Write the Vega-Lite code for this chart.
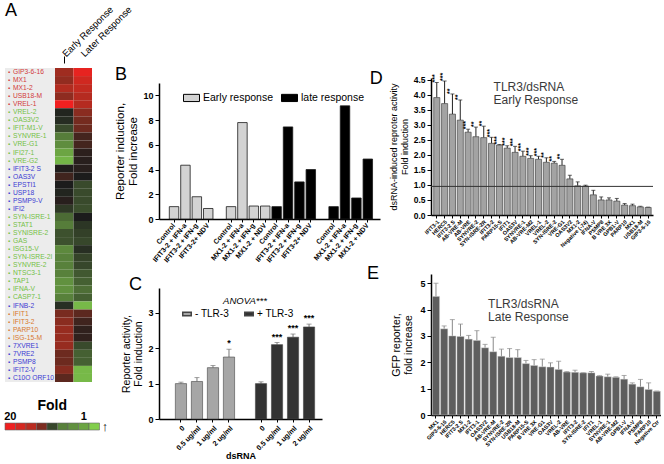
{
 "$schema": "https://vega.github.io/schema/vega-lite/v6.json",
 "padding": {"left": 3, "top": 2, "right": 0, "bottom": 0},
 "background": "white",
 "config": {
  "font": "Liberation Sans",
  "view": {"stroke": null},
  "axis": {"grid": false, "labelColor": "#000", "titleColor": "#000", "domainColor": "#000", "tickColor": "#000", "labelFontWeight": "bold", "titleFontWeight": "normal"},
  "legend": {"labelColor": "#000"}
 },
 "datasets": {
  "heat": [
   {"name": "GIP3-6-16", "grp": "r", "Early Response": 3.2, "Later Response": 4.8},
   {"name": "MX1", "grp": "r", "Early Response": 2.9, "Later Response": 4.3},
   {"name": "MX1-2", "grp": "r", "Early Response": 3.6, "Later Response": 4.0},
   {"name": "USB18-M", "grp": "r", "Early Response": 2.8, "Later Response": 3.7},
   {"name": "VREL-1", "grp": "r", "Early Response": 5.0, "Later Response": 3.7},
   {"name": "VREL-2", "grp": "g", "Early Response": -0.3, "Later Response": 2.7},
   {"name": "OAS3V2", "grp": "g", "Early Response": -0.5, "Later Response": 2.2},
   {"name": "IFIT-M1-V", "grp": "g", "Early Response": -1.4, "Later Response": 2.0},
   {"name": "SYNVRE-1", "grp": "g", "Early Response": -2.8, "Later Response": 1.0},
   {"name": "VRE-G1", "grp": "g", "Early Response": -3.2, "Later Response": 1.0},
   {"name": "IFI27-1", "grp": "g", "Early Response": -3.8, "Later Response": 0.4},
   {"name": "VRE-G2", "grp": "g", "Early Response": -4.2, "Later Response": 0.3},
   {"name": "IFIT3-2 S", "grp": "b", "Early Response": 0.1, "Later Response": 0.3},
   {"name": "OAS3V", "grp": "b", "Early Response": 0.9, "Later Response": 0.0},
   {"name": "EPSTI1", "grp": "b", "Early Response": 0.0, "Later Response": -1.4},
   {"name": "USP18", "grp": "b", "Early Response": -0.3, "Later Response": -1.4},
   {"name": "PSMP9-V", "grp": "b", "Early Response": 0.3, "Later Response": -1.4},
   {"name": "IFI2", "grp": "b", "Early Response": -0.9, "Later Response": -1.5},
   {"name": "SYN-ISRE-1", "grp": "g", "Early Response": -2.3, "Later Response": 0.0},
   {"name": "STAT1", "grp": "g", "Early Response": -2.8, "Later Response": -0.8},
   {"name": "SYNISRE-2", "grp": "g", "Early Response": -1.6, "Later Response": -1.1},
   {"name": "GAS", "grp": "g", "Early Response": -1.6, "Later Response": -1.3},
   {"name": "ISG15-V", "grp": "g", "Early Response": -3.1, "Later Response": -0.6},
   {"name": "SYN-ISRE-2I", "grp": "g", "Early Response": -2.9, "Later Response": -1.2},
   {"name": "SYNVRE-2", "grp": "g", "Early Response": -2.9, "Later Response": -1.3},
   {"name": "NTSC3-1", "grp": "g", "Early Response": -2.9, "Later Response": -1.8},
   {"name": "TAP1", "grp": "g", "Early Response": -3.3, "Later Response": -2.0},
   {"name": "IFNA-V", "grp": "g", "Early Response": -3.3, "Later Response": -2.4},
   {"name": "CASP7-1", "grp": "g", "Early Response": -2.9, "Later Response": -2.0},
   {"name": "IFNB-2", "grp": "b", "Early Response": -0.6, "Later Response": -4.3},
   {"name": "IFIT1", "grp": "o", "Early Response": 2.3, "Later Response": 1.6},
   {"name": "IFIT3-2", "grp": "o", "Early Response": 2.7, "Later Response": 0.9},
   {"name": "PARP10", "grp": "o", "Early Response": 3.0, "Later Response": 0.5},
   {"name": "ISG-15-M", "grp": "o", "Early Response": 3.0, "Later Response": 0.5},
   {"name": "7XVRE1", "grp": "b", "Early Response": 3.0, "Later Response": -1.4},
   {"name": "7VRE2", "grp": "b", "Early Response": 2.0, "Later Response": -2.0},
   {"name": "PSMP8", "grp": "b", "Early Response": 2.0, "Later Response": -2.0},
   {"name": "IFIT2-V", "grp": "b", "Early Response": 2.6, "Later Response": -4.3},
   {"name": "C10O ORF10", "grp": "b", "Early Response": 1.6, "Later Response": -4.3}
  ]
 },
 "resolve": {"scale": {"color": "independent", "fill": "independent", "x": "independent", "y": "independent"}},
 "spacing": -19,
 "hconcat": [
  {
   "resolve": {"scale": {"color": "independent", "fill": "independent", "x": "independent", "y": "independent"}},
   "spacing": 16,
   "vconcat": [
    {
     "bounds": "flush",
     "spacing": 0,
     "resolve": {"scale": {"color": "independent", "fill": "independent", "x": "independent", "y": "independent"}},
     "hconcat": [
      {
       "width": 50,
       "height": 314,
       "view": {"fill": "#ececec", "stroke": null},
       "data": {"name": "heat"},
       "encoding": {
        "y": {"field": "name", "type": "nominal", "sort": null, "axis": null, "scale": {"paddingInner": 0, "paddingOuter": 0}},
        "x": {"datum": 0.08, "type": "quantitative", "scale": {"domain": [0, 1]}, "axis": null}
       },
       "layer": [
        {"mark": {"type": "text", "align": "center", "baseline": "middle", "fontSize": 6, "text": "▪"},
         "encoding": {"fill": {"field": "grp", "type": "nominal", "scale": {"domain": ["r", "g", "b", "o"], "range": ["#d23a3a", "#72c044", "#3a3ad2", "#d8782e"]}, "legend": null}}},
        {"mark": {"type": "text", "align": "left", "baseline": "middle", "fontSize": 6.7, "dx": 4},
         "encoding": {"text": {"field": "name"}, "fill": {"field": "grp", "type": "nominal", "legend": null}}},
        {"data": {"values": [{}]}, "mark": {"type": "text", "text": "A", "fontSize": 18, "align": "left", "baseline": "alphabetic", "dy": -56, "color": "#000"},
         "encoding": {"x": {"datum": 0, "type": "quantitative"}, "y": {"datum": "GIP3-6-16", "type": "nominal"}}}
       ]
      },
      {
       "width": 37,
       "height": 314,
       "data": {"name": "heat"},
       "transform": [{"fold": ["Early Response", "Later Response"], "as": ["col", "score"]}],
       "mark": {"type": "rect"},
       "encoding": {
        "x": {"field": "col", "type": "nominal", "sort": ["Early Response", "Later Response"], "scale": {"paddingInner": 0, "paddingOuter": 0},
         "axis": {"orient": "top", "title": null, "labelAngle": -45, "labelAlign": "left", "labelBaseline": "middle", "labelFontSize": 9.5, "labelFontWeight": "normal", "domain": false, "tickSize": 7, "offset": 5, "labelPadding": 1,
          "tickColor": {"condition": {"test": "datum.value == 'Early Response'", "value": "#000"}, "value": "transparent"}}},
        "y": {"field": "name", "type": "nominal", "sort": null, "axis": null, "scale": {"paddingInner": 0, "paddingOuter": 0}},
        "color": {"field": "score", "type": "quantitative", "scale": {"domain": [-5, 0, 5], "range": ["#86d64e", "#1c1c1c", "#f02020"]}, "legend": null}
       }
      }
     ]
    },
    {
     "width": 105,
     "height": 7,
     "encoding": {
      "x": {"field": "seg", "type": "nominal", "sort": null,
       "scale": {"domain": ["s1", "s2", "s3", "s4", "s5", "s6", "s7", "s8", "s9", "arrow"], "paddingInner": 0, "paddingOuter": 0},
       "axis": {"orient": "top", "title": null, "domain": false, "ticks": false, "labelAngle": 0, "labelFontSize": 11, "labelPadding": 2, "labelExpr": "datum.value == 's1' ? '20' : datum.value == 's8' ? '1' : ''"}}
     },
     "layer": [
      {
       "data": {"values": [
        {"seg": "s1", "score": 5.0}, {"seg": "s2", "score": 4.4}, {"seg": "s3", "score": 3.8},
        {"seg": "s4", "score": 2.4}, {"seg": "s5", "score": -1.3}, {"seg": "s6", "score": -2.9},
        {"seg": "s7", "score": -3.3}, {"seg": "s8", "score": -3.8}, {"seg": "s9", "score": -4.8}
       ]},
       "mark": {"type": "rect", "stroke": "#666", "strokeWidth": 0.6},
       "encoding": {"color": {"field": "score", "type": "quantitative", "scale": {"domain": [-5, 0, 5], "range": ["#86d64e", "#1c1c1c", "#f02020"]}, "legend": null}}
      },
      {
       "data": {"values": [{"seg": "arrow", "t": "↑"}]},
       "mark": {"type": "text", "fontSize": 13, "fontWeight": "bold", "baseline": "middle", "align": "left", "dx": -3, "color": "#000"},
       "encoding": {"text": {"field": "t"}}
      },
      {
       "data": {"values": [{}]},
       "mark": {"type": "text", "text": "Fold", "fontSize": 14, "fontWeight": "bold", "baseline": "middle", "align": "center", "dy": -21, "color": "#000"},
       "encoding": {"x": {"datum": "s5"}}
      }
     ]
    }
   ]
  },
  {
   "spacing": -14,
   "resolve": {"scale": {"color": "independent", "fill": "independent", "x": "independent", "y": "independent"}},
   "hconcat": [
    {
     "bounds": "flush",
     "spacing": 14,
     "resolve": {"scale": {"color": "independent", "fill": "independent", "x": "independent", "y": "independent"}},
     "vconcat": [
      {"width": 1, "height": 1, "data": {"values": [{}]}, "mark": {"type": "text"}, "encoding": {"text": {"value": ""}}},
      {
       "bounds": "flush",
       "spacing": 69,
       "resolve": {"scale": {"color": "independent", "fill": "independent", "x": "independent", "y": "independent"}},
       "vconcat": [
        {
         "width": 221,
         "height": 136,
         "encoding": {
          "x": {"field": "key", "type": "nominal", "sort": null,
           "scale": {"domain": ["Control|1", "IFIT3-2 + IFN-a|1", "IFIT3-2 + IFN-g|1", "IFIT3-2+ NDV|1", "|g1", "Control|2", "MX1-2 + IFN-a|2", "MX1-2 + IFN-g|2", "MX1-2 + NDV|2", "Control|3", "IFIT3-2 + IFN-a|3", "IFIT3-2 + IFN-g|3", "IFIT3-2+ NDV|3", "|g2", "Control|4", "MX1-2 + IFN-a|4", "MX1-2 + IFN-g|4", "MX1-2 + NDV|4"], "paddingInner": 0.17, "paddingOuter": 0.78, "align": 0.58},
           "axis": {"title": null, "labelAngle": -50, "labelFontSize": 7, "labelExpr": "split(datum.value, '|')[0]", "tickSize": 3, "labelPadding": 2, "domainWidth": 1.5,
            "tickColor": {"condition": {"test": "indexof(datum.value, '|g') == 0", "value": "transparent"}, "value": "#000"}}},
          "y": {"type": "quantitative", "scale": {"domain": [0, 11], "nice": false},
           "axis": {"values": [0, 2, 4, 6, 8, 10], "title": ["Reporter induction,", "Fold increase"], "titleFontSize": 11.5, "labelFontSize": 9, "tickSize": 4, "domainWidth": 1.5, "titlePadding": 4}}
         },
         "layer": [
          {
           "data": {"values": [
            {"key": "Control|1", "v": 1.0, "resp": "Early response"},
            {"key": "IFIT3-2 + IFN-a|1", "v": 4.35, "resp": "Early response"},
            {"key": "IFIT3-2 + IFN-g|1", "v": 1.8, "resp": "Early response"},
            {"key": "IFIT3-2+ NDV|1", "v": 0.85, "resp": "Early response"},
            {"key": "Control|2", "v": 1.0, "resp": "Early response"},
            {"key": "MX1-2 + IFN-a|2", "v": 7.8, "resp": "Early response"},
            {"key": "MX1-2 + IFN-g|2", "v": 1.05, "resp": "Early response"},
            {"key": "MX1-2 + NDV|2", "v": 1.05, "resp": "Early response"},
            {"key": "Control|3", "v": 1.0, "resp": "late response"},
            {"key": "IFIT3-2 + IFN-a|3", "v": 7.45, "resp": "late response"},
            {"key": "IFIT3-2 + IFN-g|3", "v": 3.0, "resp": "late response"},
            {"key": "IFIT3-2+ NDV|3", "v": 4.0, "resp": "late response"},
            {"key": "Control|4", "v": 1.0, "resp": "late response"},
            {"key": "MX1-2 + IFN-a|4", "v": 9.15, "resp": "late response"},
            {"key": "MX1-2 + IFN-g|4", "v": 1.7, "resp": "late response"},
            {"key": "MX1-2 + NDV|4", "v": 4.85, "resp": "late response"}
           ]},
           "mark": {"type": "bar", "stroke": "#1a1a1a", "strokeWidth": 0.8},
           "encoding": {
            "y": {"field": "v"},
            "color": {"field": "resp", "type": "nominal", "scale": {"domain": ["Early response", "late response"], "range": ["#d3d3d3", "#000000"]},
             "legend": {"orient": "none", "legendX": 24, "legendY": 6, "direction": "horizontal", "title": null, "symbolType": "M-1,-0.45H1V0.45H-1Z", "symbolSize": 256, "symbolStrokeColor": "#000", "symbolStrokeWidth": 1, "labelFontSize": 10.5, "columnPadding": 5, "labelOffset": 3}}
           }
          },
          {
           "data": {"values": [{}]},
           "mark": {"type": "text", "text": "B", "fontSize": 18, "align": "left", "baseline": "alphabetic", "dx": -59, "dy": -3, "color": "#000"},
           "encoding": {"x": {"datum": "Control|1"}, "y": {"datum": 11}}
          }
         ]
        },
        {
         "width": 163,
         "height": 131,
         "data": {"values": [
          {"key": "0|m", "v": 1.0, "err": 1.04, "grp": "- TLR-3", "star": ""},
          {"key": "0.5 ug/ml|m", "v": 1.06, "err": 1.17, "grp": "- TLR-3", "star": ""},
          {"key": "1 ug/ml|m", "v": 1.45, "err": 1.51, "grp": "- TLR-3", "star": ""},
          {"key": "2 ug/ml|m", "v": 1.75, "err": 1.97, "grp": "- TLR-3", "star": "*"},
          {"key": "0|p", "v": 1.0, "err": 1.05, "grp": "+ TLR-3", "star": ""},
          {"key": "0.5 ug/ml|p", "v": 2.1, "err": 2.16, "grp": "+ TLR-3", "star": "***"},
          {"key": "1 ug/ml|p", "v": 2.31, "err": 2.4, "grp": "+ TLR-3", "star": "***"},
          {"key": "2 ug/ml|p", "v": 2.6, "err": 2.68, "grp": "+ TLR-3", "star": "***"}
         ]},
         "encoding": {
          "x": {"field": "key", "type": "nominal", "sort": null,
           "scale": {"domain": ["0|m", "0.5 ug/ml|m", "1 ug/ml|m", "2 ug/ml|m", "|gap", "0|p", "0.5 ug/ml|p", "1 ug/ml|p", "2 ug/ml|p"], "paddingInner": 0.3, "paddingOuter": 0.74, "align": 0.69},
           "axis": {"title": "dsRNA", "titleFontSize": 9, "titleFontWeight": "bold", "titlePadding": 0, "labelAngle": -45, "labelFontSize": 7.2, "labelExpr": "split(datum.value, '|')[0]", "tickSize": 3, "labelPadding": 2, "domainWidth": 1.5,
            "tickColor": {"condition": {"test": "datum.value == '|gap'", "value": "transparent"}, "value": "#000"}}},
          "y": {"type": "quantitative", "scale": {"domain": [0, 3.7], "nice": false},
           "axis": {"values": [0, 1, 2, 3], "title": ["Reporter activity,", "Fold induction"], "titleFontSize": 10.5, "labelFontSize": 9, "tickSize": 4, "domainWidth": 1.5, "titlePadding": 4}}
         },
         "layer": [
          {"mark": {"type": "rule", "color": "#777", "strokeWidth": 1}, "encoding": {"y": {"field": "v"}, "y2": {"field": "err"}}},
          {"mark": {"type": "tick", "color": "#777", "size": 5, "thickness": 1}, "encoding": {"y": {"field": "err"}}},
          {"mark": {"type": "bar", "stroke": "#444", "strokeWidth": 0.6},
           "encoding": {"y": {"field": "v"},
            "color": {"field": "grp", "type": "nominal", "scale": {"domain": ["- TLR-3", "+ TLR-3"], "range": ["#a6a6a6", "#333333"]},
             "legend": {"orient": "none", "legendX": 23, "legendY": 21, "direction": "horizontal", "title": null, "symbolType": "M-1,-0.4H1V0.4H-1Z", "symbolSize": 72, "labelFontSize": 10, "labelFontWeight": "normal", "columnPadding": 12, "labelOffset": 3,
              "encode": {"symbols": {"update": {"fill": {"value": "white"}, "stroke": {"value": "#777"}, "strokeWidth": {"value": 1}}}}}}}},
          {"mark": {"type": "text", "baseline": "bottom", "fontSize": 9, "fontWeight": "bold", "dy": -1}, "encoding": {"y": {"field": "err"}, "text": {"field": "star"}}},
          {"data": {"values": [{}]}, "mark": {"type": "text", "text": "ANOVA***", "fontSize": 9.5, "fontStyle": "italic", "baseline": "middle"}, "encoding": {"x": {"datum": "|gap"}, "y": {"datum": 3.33}}},
          {"data": {"values": [{}]}, "mark": {"type": "text", "text": "C", "fontSize": 18, "align": "left", "baseline": "alphabetic", "dx": -52, "dy": 2, "color": "#000"}, "encoding": {"x": {"datum": "0|m"}, "y": {"datum": 3.7}}}
         ]
        }
       ]
      }
     ]
    },
    {
     "bounds": "flush",
     "spacing": 9,
     "resolve": {"scale": {"color": "independent", "fill": "independent", "x": "independent", "y": "independent"}},
     "vconcat": [
      {"width": 1, "height": 1, "data": {"values": [{}]}, "mark": {"type": "text"}, "encoding": {"text": {"value": ""}}},
      {
       "bounds": "flush",
       "spacing": 59,
       "resolve": {"scale": {"color": "independent", "fill": "independent", "x": "independent", "y": "independent"}},
       "vconcat": [
        {
         "width": 222,
         "height": 137,
         "data": {"values": [
          {"name": "IFIT3-1", "v": 3.9, "err": 4.4, "star": "***"},
          {"name": "HERC5", "v": 3.7, "err": 4.45, "star": "***"},
          {"name": "IFIT3-2 S", "v": 3.35, "err": 4.02, "star": "**"},
          {"name": "AB-VRE-M", "v": 3.15, "err": 3.82, "star": "**"},
          {"name": "AB-VRE", "v": 2.75, "err": 2.85, "star": "***"},
          {"name": "SYNVRE-2", "v": 2.6, "err": 2.92, "star": "**"},
          {"name": "SYN-ISRE-2R", "v": 2.57, "err": 2.95, "star": "**"},
          {"name": "IFIT3-2", "v": 2.38, "err": 2.58, "star": "***"},
          {"name": "PARP15-S", "v": 2.32, "err": 2.34, "star": "***"},
          {"name": "IFIT1", "v": 2.22, "err": 2.3, "star": "***"},
          {"name": "OAS3V", "v": 2.08, "err": 2.28, "star": "***"},
          {"name": "SYNVRE-1", "v": 1.95, "err": 2.12, "star": "***"},
          {"name": "AB-VRE-M2", "v": 1.88, "err": 1.97, "star": "***"},
          {"name": "VREL-1", "v": 1.85, "err": 1.95, "star": "***"},
          {"name": "VREL-2", "v": 1.75, "err": 1.9, "star": "**"},
          {"name": "SYN-ISRE-2", "v": 1.72, "err": 1.78, "star": "**"},
          {"name": "VRE-G1", "v": 1.65, "err": 1.85, "star": "**"},
          {"name": "OAS3V2", "v": 1.2, "err": 1.32, "star": ""},
          {"name": "MX1-2", "v": 0.97, "err": 1.1, "star": ""},
          {"name": "Negative (-74)", "v": 0.96, "err": 0.99, "star": ""},
          {"name": "IFNA-V", "v": 0.67, "err": 0.82, "star": ""},
          {"name": "PSMP8", "v": 0.5, "err": 0.6, "star": ""},
          {"name": "B VRE 3X", "v": 0.5, "err": 0.57, "star": ""},
          {"name": "GPB1-V", "v": 0.46, "err": 0.55, "star": ""},
          {"name": "PARP10", "v": 0.33, "err": 0.38, "star": ""},
          {"name": "MX1", "v": 0.31, "err": 0.36, "star": ""},
          {"name": "USB18-M", "v": 0.27, "err": 0.29, "star": ""},
          {"name": "GIP3-6-16", "v": 0.25, "err": 0.26, "star": ""}
         ]},
         "encoding": {
          "y": {"type": "quantitative", "scale": {"domain": [0, 4.55], "nice": false},
           "axis": {"values": [0, 0.5, 1, 1.5, 2, 2.5, 3, 3.5, 4, 4.5], "format": ".1f", "title": ["dsRNA-induced reproter activity", "Fold induction"], "titleFontSize": 9, "labelFontSize": 8.5, "tickSize": 4, "domainWidth": 1.5, "titlePadding": 4}}
         },
         "layer": [
          {"mark": {"type": "rule", "color": "#222", "strokeWidth": 1},
           "encoding": {"x": {"field": "name", "type": "nominal", "sort": null, "scale": {"paddingInner": 0.22, "paddingOuter": 0.29, "align": 0.6},
            "axis": {"title": null, "labelAngle": -45, "labelFontSize": 5.5, "labelColor": "#000", "tickSize": 3, "labelPadding": 1, "domainWidth": 1.5}}, "y": {"field": "v"}, "y2": {"field": "err"}}},
          {"mark": {"type": "tick", "color": "#222", "size": 4, "thickness": 1}, "encoding": {"x": {"field": "name", "type": "nominal", "sort": null}, "y": {"field": "err"}}},
          {"mark": {"type": "bar", "color": "#a3a3a3", "stroke": "#333", "strokeWidth": 0.6}, "encoding": {"x": {"field": "name", "type": "nominal", "sort": null}, "y": {"field": "v"}}},
          {"mark": {"type": "text", "angle": 270, "align": "left", "baseline": "middle", "fontSize": 7, "fontWeight": "bold", "dy": -2}, "encoding": {"x": {"field": "name", "type": "nominal", "sort": null}, "y": {"field": "err"}, "text": {"field": "star"}}},
          {"data": {"values": [{}]}, "mark": {"type": "rule", "color": "#333", "strokeWidth": 1}, "encoding": {"y": {"datum": 0.95}}},
          {"data": {"values": [{}]}, "mark": {"type": "text", "align": "left", "baseline": "top", "fontSize": 12, "color": "#3a3a3a", "lineHeight": 13, "dx": 2}, "encoding": {"x": {"datum": "IFIT3-2"}, "y": {"datum": 4.42}, "text": {"value": ["TLR3/dsRNA", "Early Response"]}}},
          {"data": {"values": [{}]}, "mark": {"type": "text", "text": "D", "fontSize": 18, "align": "left", "baseline": "alphabetic", "dx": -67, "dy": 6, "color": "#000"}, "encoding": {"x": {"datum": "IFIT3-1"}, "y": {"datum": 4.55}}}
         ]
        },
        {
         "width": 230,
         "height": 141,
         "data": {"values": [
          {"name": "MX1", "v": 4.5, "err": 5.0},
          {"name": "GIP3-6-16", "v": 3.27, "err": 3.38},
          {"name": "HERC5", "v": 3.0, "err": 3.62},
          {"name": "IFIT3-2 S", "v": 2.98, "err": 3.45},
          {"name": "MX1-2", "v": 2.88, "err": 3.02},
          {"name": "IFIT3-1", "v": 2.83, "err": 3.2},
          {"name": "OAS3V2", "v": 2.55, "err": 2.68},
          {"name": "AB-VRE-M", "v": 2.4, "err": 2.95},
          {"name": "SYNVRE-2", "v": 2.23, "err": 2.5},
          {"name": "SYN-ISRE-2R", "v": 2.18, "err": 2.52},
          {"name": "USB18-M", "v": 2.18, "err": 2.48},
          {"name": "PARP15-S", "v": 1.95, "err": 2.07},
          {"name": "B VRE 3X", "v": 1.88, "err": 2.1},
          {"name": "VRE-G1", "v": 1.83, "err": 2.12},
          {"name": "OAS3V", "v": 1.82, "err": 1.98},
          {"name": "VREL-2", "v": 1.73, "err": 2.04},
          {"name": "AB-VRE", "v": 1.63, "err": 1.65},
          {"name": "IFIT3-2", "v": 1.62, "err": 1.7},
          {"name": "SYN-ISRE-2", "v": 1.6, "err": 1.61},
          {"name": "IFIT1", "v": 1.6, "err": 1.65},
          {"name": "VREL-1", "v": 1.48, "err": 1.5},
          {"name": "SYNVRE-1", "v": 1.45, "err": 1.55},
          {"name": "AB-VRE-M2", "v": 1.43, "err": 1.45},
          {"name": "GPB1-V", "v": 1.36, "err": 1.5},
          {"name": "IFNA-V", "v": 1.17, "err": 1.22},
          {"name": "PSMP8", "v": 1.07, "err": 1.35},
          {"name": "PARP10", "v": 0.97, "err": 1.22},
          {"name": "Negative Ctr", "v": 0.9, "err": 0.91}
         ]},
         "encoding": {
          "x": {"field": "name", "type": "nominal", "sort": null, "scale": {"paddingInner": 0.12, "paddingOuter": 0.12, "align": 0.7},
           "axis": {"title": null, "labelAngle": -45, "labelFontSize": 5.5, "labelColor": "#000", "tickSize": 3, "labelPadding": 1, "domainWidth": 1.5}},
          "y": {"type": "quantitative", "scale": {"domain": [0, 5.35], "nice": false},
           "axis": {"values": [0, 1, 2, 3, 4, 5], "title": ["GFP reporter,", "fold increase"], "titleFontSize": 10.5, "labelFontSize": 9, "tickSize": 4, "domainWidth": 1.5, "titlePadding": 6}}
         },
         "layer": [
          {"mark": {"type": "rule", "color": "#8a8a8a", "strokeWidth": 1}, "encoding": {"y": {"field": "v"}, "y2": {"field": "err"}}},
          {"mark": {"type": "tick", "color": "#8a8a8a", "size": 5, "thickness": 1}, "encoding": {"y": {"field": "err"}}},
          {"mark": {"type": "bar", "color": "#5e5e5e", "stroke": "#d8d8d8", "strokeWidth": 0.4}, "encoding": {"y": {"field": "v"}}},
          {"data": {"values": [{}]}, "mark": {"type": "text", "align": "left", "baseline": "top", "fontSize": 12, "color": "#3a3a3a", "lineHeight": 13, "dx": 3}, "encoding": {"x": {"datum": "OAS3V2"}, "y": {"datum": 4.4}, "text": {"value": ["TLR3/dsRNA", "Late Response"]}}},
          {"data": {"values": [{}]}, "mark": {"type": "text", "text": "E", "fontSize": 18, "align": "left", "baseline": "alphabetic", "dx": -69, "dy": 5, "color": "#000"}, "encoding": {"x": {"datum": "MX1"}, "y": {"datum": 5.35}}}
         ]
        }
       ]
      }
     ]
    }
   ]
  }
 ]
}
